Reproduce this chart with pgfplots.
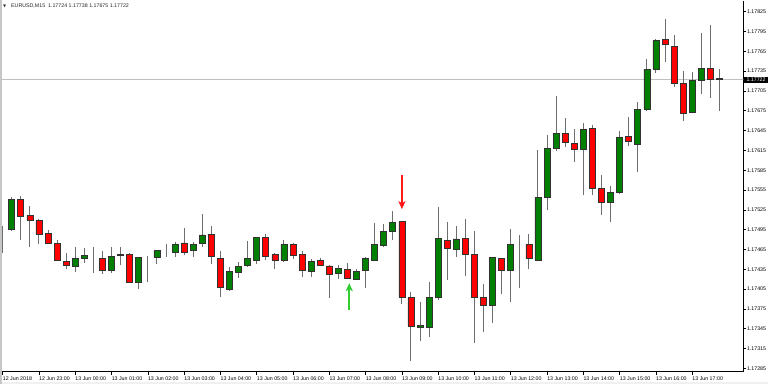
\documentclass[border=0pt]{standalone}
\usepackage{fontspec}
\setmainfont{Liberation Sans}
\newfontfamily\dejavu{DejaVu Sans}
\usepackage{pgfplots}
\usepackage{pgfplotstable}
\pgfplotsset{compat=1.18}
\usetikzlibrary{arrows.meta}
\definecolor{bull}{RGB}{0,128,0}
\definecolor{bear}{RGB}{255,0,0}
\definecolor{outl}{RGB}{50,50,50}
\definecolor{wick}{RGB}{110,110,110}
\definecolor{pline}{RGB}{192,192,192}
\definecolor{upar}{RGB}{50,205,50}
\definecolor{dnar}{RGB}{255,25,25}
\newcommand\fs{\fontsize{5.3}{6}\selectfont}
\pgfplotstableread{
k o h l c
0 1.17498 1.17500 1.17460 1.17498
1 1.17496 1.17545 1.17493 1.17541
2 1.17541 1.17546 1.17480 1.17515
3 1.17517 1.17531 1.17468 1.17509
4 1.17509 1.17511 1.17473 1.17488
5 1.17489 1.17494 1.17473 1.17474
6 1.17474 1.17479 1.17447 1.17449
7 1.17447 1.17459 1.17435 1.17441
8 1.17439 1.17469 1.17431 1.17451
9 1.17451 1.17467 1.17445 1.17456
10 1.17455 1.17469 1.17429 1.17455
11 1.17452 1.17463 1.17428 1.17433
12 1.17433 1.17469 1.17430 1.17455
13 1.17456 1.17468 1.17441 1.17458
14 1.17458 1.17459 1.17414 1.17415
15 1.17415 1.17454 1.17405 1.17453
16 1.17454 1.17455 1.17415 1.17454
17 1.17453 1.17464 1.17443 1.17463
18 1.17461 1.17473 1.17454 1.17461
19 1.17461 1.17476 1.17454 1.17473
20 1.17475 1.17497 1.17456 1.17461
21 1.17464 1.17476 1.17454 1.17472
22 1.17474 1.17518 1.17469 1.17487
23 1.17488 1.17501 1.17443 1.17454
24 1.17452 1.17462 1.17393 1.17407
25 1.17405 1.17439 1.17402 1.17432
26 1.17431 1.17446 1.17422 1.17439
27 1.17441 1.17478 1.17439 1.17452
28 1.17449 1.17484 1.17443 1.17483
29 1.17483 1.17488 1.17449 1.17455
30 1.17457 1.17459 1.17436 1.17449
31 1.17449 1.17480 1.17446 1.17473
32 1.17473 1.17475 1.17451 1.17456
33 1.17457 1.17463 1.17424 1.17433
34 1.17432 1.17450 1.17424 1.17447
35 1.17449 1.17452 1.17440 1.17441
36 1.17440 1.17441 1.17392 1.17427
37 1.17429 1.17441 1.17420 1.17436
38 1.17435 1.17444 1.17420 1.17421
39 1.17419 1.17436 1.17419 1.17432
40 1.17433 1.17453 1.17406 1.17451
41 1.17449 1.17505 1.17447 1.17473
42 1.17471 1.17503 1.17469 1.17492
43 1.17493 1.17523 1.17480 1.17506
44 1.17507 1.17508 1.17383 1.17393
45 1.17392 1.17401 1.17296 1.17349
46 1.17347 1.17386 1.17327 1.17350
47 1.17347 1.17415 1.17333 1.17393
48 1.17392 1.17530 1.17389 1.17482
49 1.17479 1.17507 1.17419 1.17466
50 1.17465 1.17501 1.17454 1.17481
51 1.17482 1.17511 1.17425 1.17457
52 1.17457 1.17493 1.17324 1.17393
53 1.17393 1.17413 1.17340 1.17380
54 1.17381 1.17454 1.17353 1.17453
55 1.17451 1.17452 1.17397 1.17433
56 1.17433 1.17496 1.17386 1.17473
57 1.17473 1.17487 1.17407 1.17473
58 1.17473 1.17489 1.17435 1.17451
59 1.17449 1.17616 1.17449 1.17544
60 1.17544 1.17639 1.17524 1.17618
61 1.17618 1.17697 1.17614 1.17641
62 1.17641 1.17664 1.17620 1.17627
63 1.17626 1.17648 1.17597 1.17617
64 1.17616 1.17656 1.17547 1.17647
65 1.17648 1.17653 1.17547 1.17558
66 1.17557 1.17577 1.17517 1.17536
67 1.17536 1.17561 1.17507 1.17552
68 1.17552 1.17644 1.17549 1.17635
69 1.17636 1.17665 1.17621 1.17628
70 1.17624 1.17689 1.17583 1.17677
71 1.17677 1.17753 1.17675 1.17738
72 1.17738 1.17783 1.17732 1.17781
73 1.17783 1.17814 1.17749 1.17776
74 1.17773 1.17789 1.17711 1.17716
75 1.17717 1.17735 1.17660 1.17671
76 1.17672 1.17734 1.17671 1.17721
77 1.17721 1.17792 1.17701 1.17739
78 1.17739 1.17805 1.17695 1.17722
79 1.17724 1.17738 1.17675 1.17722
}\candles
\pgfplotsset{
  chartgeom/.style={
    at={(2bp,12.3bp)}, anchor=south west, scale only axis,
    width=741.3bp, height=370.7bp,
    xmin=-0.077, xmax=81.63, ymin=1.172799, ymax=1.178412,
  }
}
\begin{document}
\begin{tikzpicture}
\useasboundingbox (0,0) rectangle (768bp,384bp);
\fill[white] (0,0) rectangle (768bp,384bp);
\fill[black!22] (0,0) rectangle (2bp,384bp);
\fill[black!6] (2bp,0) rectangle (768bp,2bp);
\begin{axis}[chartgeom,
  axis x line*=bottom, axis y line*=right,
  axis line style={black, line width=0.8bp},
  tick align=outside, major tick length=3bp,
  tick style={black, line width=0.6bp},
  scaled y ticks=false,
  xtick={0,4,...,76},
  xticklabels={12 Jun 2018,12 Jun 23:00,13 Jun 00:00,13 Jun 01:00,13 Jun 02:00,13 Jun 03:00,13 Jun 04:00,13 Jun 05:00,13 Jun 06:00,13 Jun 07:00,13 Jun 08:00,13 Jun 09:00,13 Jun 10:00,13 Jun 11:00,13 Jun 12:00,13 Jun 13:00,13 Jun 14:00,13 Jun 15:00,13 Jun 16:00,13 Jun 17:00},
  ytick={1.17285,1.17315,1.17345,1.17375,1.17405,1.17435,1.17465,1.17495,1.17525,1.17555,1.17585,1.17615,1.17645,1.17675,1.17705,1.17735,1.17765,1.17795,1.17825},
  yticklabels={1.17285,1.17315,1.17345,1.17375,1.17405,1.17435,1.17465,1.17495,1.17525,1.17555,1.17585,1.17615,1.17645,1.17675,1.17705,1.17735,1.17765,1.17795,1.17825},
  xticklabel style={font=\fs, anchor=north west, inner sep=0pt, yshift=-1.5bp},
  yticklabel style={font=\fs, anchor=west, inner sep=0pt, xshift=0.5bp},
]
\addplot[forget plot, color=pline, line width=0.8bp] coordinates {(-1,1.17722) (82,1.17722)};
\addplot[forget plot, draw=none, mark=none,
  error bars/.cd, y dir=plus, y explicit, error mark=none,
  error bar style={draw=wick, line width=1bp}]
  table[x=k, y=l, y error expr={\thisrow{h}-\thisrow{l}}] {\candles};
\coordinate (pricept) at (axis cs:81.63,1.17722);
\end{axis}
\begin{axis}[chartgeom, axis lines=none, xtick=\empty, ytick=\empty,
  ybar stacked, bar width=6bp]
\addplot[draw=none, fill=none] table[x=k, y expr={min(\thisrow{o},\thisrow{c})}] {\candles};
\addplot[draw=outl, line width=0.7bp, fill=bull] table[x=k, y expr={max(\thisrow{c}-\thisrow{o},0)}] {\candles};
\addplot[draw=outl, line width=0.7bp, fill=bear] table[x=k, y expr={max(\thisrow{o}-\thisrow{c},0)}] {\candles};
\draw[dnar, line width=2bp, -{Stealth[length=8bp,width=7bp,inset=2bp]}] (axis cs:44,1.17578) -- (axis cs:44,1.17526);
\draw[upar, line width=2bp, -{Stealth[length=8bp,width=7bp,inset=2bp]}] (axis cs:38.2,1.17374) -- (axis cs:38.2,1.17414);
\end{axis}
\node[fill=black, text=white, font=\fs, inner xsep=2.4bp, inner ysep=1.3bp, anchor=west, xshift=0.6bp] at (pricept) {1.17722};
\node[font=\dejavu\fontsize{4}{5}\selectfont, text=black!80, anchor=west, inner sep=0pt] at (3bp,378bp) {▼};
\node[font=\fs, text=black!85, anchor=west, inner sep=0pt] at (11bp,378bp) {EURUSD,M15\ \ 1.17724 1.17738 1.17675 1.17722};
\end{tikzpicture}
\end{document}
